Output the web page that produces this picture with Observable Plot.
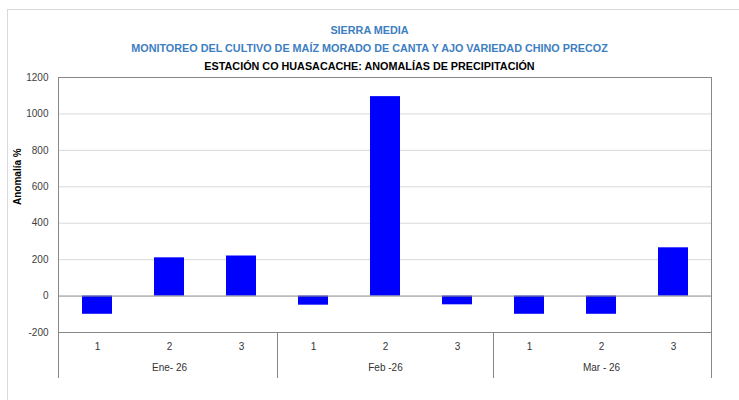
<!DOCTYPE html>
<html>
<head>
<meta charset="utf-8">
<script src="https://cdn.jsdelivr.net/npm/d3@7"></script>
<script src="https://cdn.jsdelivr.net/npm/@observablehq/plot@0.6"></script>
<style>
  html, body { margin: 0; padding: 0; background: #fff; }
  #wrap { position: relative; width: 739px; height: 400px; overflow: hidden; }
  #border { position: absolute; left: 7px; top: 9px; width: 760px; height: 420px; border-top: 1px solid #d9d9d9; border-left: 1px solid #d9d9d9; box-sizing: border-box; }
  #titles { position: absolute; left: 0; top: 21px; width: 739px; text-align: center; font-family: "Liberation Sans Narrow", "Liberation Sans", sans-serif; font-weight: bold; font-size: 10.8px; line-height: 18px; }
  .blue { color: #3d7ec1; }
  .black { color: #000; }
  #chart { position: absolute; left: 0; top: 70px; }
</style>
</head>
<body>
<div id="wrap">
  <div id="border"></div>
  <div id="titles">
    <div class="blue">SIERRA MEDIA</div>
    <div class="blue">MONITOREO DEL CULTIVO DE MAÍZ MORADO DE CANTA Y AJO VARIEDAD CHINO PRECOZ</div>
    <div class="black">ESTACIÓN CO HUASACACHE: ANOMALÍAS DE PRECIPITACIÓN</div>
  </div>
  <div id="chart"></div>
</div>
<script>
const months = ["Ene- 26", "Feb -26", "Mar - 26"];
const decades = ["1", "2", "3"];
const anomalies = [-100, 210, 220, -50, 1095, -48, -100, -100, 265];
const yTicks = [-200, 0, 200, 400, 600, 800, 1000, 1200];
const yLabel = "Anomalía %";

const data = anomalies.map((v, i) => {
  const m = months[Math.floor(i / 3)], d = decades[i % 3];
  return { month: m, dec: d, key: m + "|" + d, v };
});

const font = "'Liberation Sans Narrow', 'Liberation Sans', sans-serif";

const plot = Plot.plot({
  width: 739,
  height: 330,
  marginTop: 7,
  marginLeft: 58,
  marginRight: 28,
  marginBottom: 68,
  style: { fontFamily: font, fontSize: "10px", color: "#404040", background: "transparent" },
  x: { domain: data.map(d => d.key), paddingInner: 0.59, paddingOuter: 0.295, axis: null },
  y: { domain: [-200, 1200], ticks: yTicks, tickFormat: d => String(d), tickSize: 0, tickPadding: 10, label: null },
  marks: [
    Plot.ruleY(yTicks.filter(t => t > 0 && t < 1200), { stroke: "#d9d9d9" }),
    Plot.barY(data, { x: "key", y: "v", fill: "#0000ff" }),
    Plot.ruleY([0], { stroke: "#888" }),
    Plot.ruleY([-200, 1200], { stroke: "#888" }),
    Plot.text(data, { x: "key", text: "dec", frameAnchor: "bottom", dy: 17, fill: "#333" }),
    Plot.text(data.filter(d => d.dec === "2"), { x: "key", text: "month", frameAnchor: "bottom", dy: 38, fill: "#333" }),
    Plot.text([yLabel], { frameAnchor: "left", rotate: -90, dx: -41, fontWeight: "bold", fill: "#000", fontSize: 10 })
  ]
});

document.getElementById("chart").appendChild(plot);

// vertical frame lines and group separators extending through the category axis
const xs = plot.scale("x");
const svgSel = d3.select(plot);
const plotTop = 7, plotBottom = 330 - 68, axisBottom = 330 - 68 + 46;
const gap = (xs.step - xs.bandwidth) / 2;
const lines = [xs.range[0], xs.range[1]];
months.slice(1).forEach(m => lines.push(xs.apply(m + "|1") - gap));
svgSel.append("g").selectAll("line").data(lines).join("line")
  .attr("x1", d => Math.round(d) + 0.5).attr("x2", d => Math.round(d) + 0.5)
  .attr("y1", (d, i) => i < 2 ? plotTop : plotBottom)
  .attr("y2", axisBottom)
  .attr("stroke", "#888");
</script>
</body>
</html>
